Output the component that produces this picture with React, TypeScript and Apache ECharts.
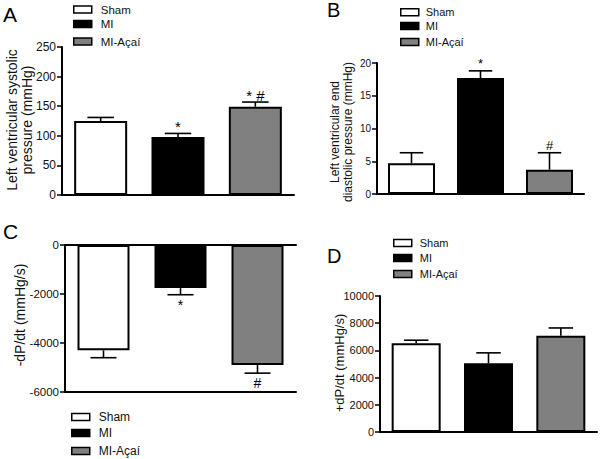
import React, { useEffect, useRef } from 'react';
import * as echarts from 'echarts';

// ---------- data ----------
const groups = ['Sham', 'MI', 'MI-Açaí'];
const groupColors = ['#ffffff', '#000000', '#808080'];

const lvspMean = [125, 98, 149];
const lvspSem = [6, 6, 8];
const lvspMarks = ['', '*', '* #'];
const lvspAxis = [0, 250, 50];

const lvedpMean = [4.7, 17.7, 3.7];
const lvedpSem = [1.6, 1.1, 2.6];
const lvedpMarks = ['', '*', '#'];
const lvedpAxis = [0, 20, 5];

const negDpMean = [-4300, -1760, -4900];
const negDpSem = [300, 270, 330];
const negDpMarks = ['', '*', '#'];
const negDpAxis = [-6000, 0, 2000];

const posDpMean = [6530, 5050, 7070];
const posDpSem = [220, 770, 580];
const posDpMarks = ['', '', ''];
const posDpAxis = [0, 10000, 2000];

const FONT = '"Liberation Sans", Arial, Helvetica, sans-serif';

type Panel = {
  mean: number[];
  sem: number[];
  marks: string[];
  axis: number[];
  grid: { left: number; top: number; width: number; height: number };
  barWidth: number;
  tickFont: number;
  markFont: number;
  dir: number;
  bottomLine?: boolean;
};

const panels: Panel[] = [
  { mean: lvspMean, sem: lvspSem, marks: lvspMarks, axis: lvspAxis, grid: { left: 62, top: 47, width: 232, height: 148 }, barWidth: 53, tickFont: 12, markFont: 15, dir: 1 },
  { mean: lvedpMean, sem: lvedpSem, marks: lvedpMarks, axis: lvedpAxis, grid: { left: 377, top: 63, width: 207, height: 131 }, barWidth: 47, tickFont: 10, markFont: 13, dir: 1 },
  { mean: negDpMean, sem: negDpSem, marks: negDpMarks, axis: negDpAxis, grid: { left: 65, top: 245, width: 231, height: 147 }, barWidth: 52, tickFont: 11.5, markFont: 14, dir: -1, bottomLine: true },
  { mean: posDpMean, sem: posDpSem, marks: posDpMarks, axis: posDpAxis, grid: { left: 380, top: 296, width: 217, height: 136 }, barWidth: 49, tickFont: 11, markFont: 14, dir: 1 },
];

const legendLayouts = [
  { left: 73, centers: [9.5, 24, 41.5], font: 11.5, pad: 4 },
  { left: 400, centers: [12.3, 26, 42], font: 11, pad: 2 },
  { left: 71, centers: [417, 433, 451], font: 12, pad: 4 },
  { left: 393, centers: [243, 258, 274], font: 11, pad: 3 },
];

const axisTitles = [
  { text: 'Left ventricular systolic\npressure (mmHg)', x: 19.5, y: 120, font: 14, lh: 15 },
  { text: 'Left ventricular end\ndiastolic pressure (mmHg)', x: 341.5, y: 132, font: 12, lh: 13 },
  { text: '-dP/dt (mmHg/s)', x: 20, y: 315, font: 14, lh: 15 },
  { text: '+dP/dt (mmHg/s)', x: 339, y: 363, font: 13, lh: 14 },
];

const panelLetters = [
  { text: 'A', x: 3, y: 14.5, font: 21 },
  { text: 'B', x: 327, y: 10, font: 20 },
  { text: 'C', x: 3, y: 231, font: 21 },
  { text: 'D', x: 327, y: 256, font: 20 },
];

function buildOption() {
  const grid: any[] = [];
  const xAxis: any[] = [];
  const yAxis: any[] = [];
  const series: any[] = [];
  const legend: any[] = [];
  const graphic: any[] = [];

  panels.forEach((p, pi) => {
    grid.push({ ...p.grid, containLabel: false });
    const xIdx = xAxis.length;
    xAxis.push({
      type: 'category',
      gridIndex: pi,
      data: groups,
      boundaryGap: true,
      axisLine: { show: true, onZero: true, lineStyle: { color: '#000', width: 2 } },
      axisTick: { show: false },
      axisLabel: { show: false },
      splitLine: { show: false },
    });
    if (p.bottomLine) {
      xAxis.push({
        type: 'category',
        gridIndex: pi,
        data: groups,
        position: 'bottom',
        axisLine: { show: true, onZero: false, lineStyle: { color: '#000', width: 2 } },
        axisTick: { show: false },
        axisLabel: { show: false },
        splitLine: { show: false },
      });
    }
    yAxis.push({
      type: 'value',
      gridIndex: pi,
      min: p.axis[0],
      max: p.axis[1],
      interval: p.axis[2],
      axisLine: { show: true, onZero: false, lineStyle: { color: '#000', width: 2 } },
      axisTick: { show: true, length: 5, lineStyle: { color: '#000', width: 1.5 } },
      axisLabel: { show: true, color: '#111', fontSize: p.tickFont, fontFamily: FONT, margin: 6, formatter: (v: number) => String(v) },
      splitLine: { show: false },
    });

    groups.forEach((g, gi) => {
      series.push({
        type: 'bar',
        name: g,
        xAxisIndex: xIdx,
        yAxisIndex: pi,
        barWidth: p.barWidth,
        barGap: '-100%',
        data: groups.map((_, k) => (k === gi ? p.mean[k] : null)),
        itemStyle: { color: groupColors[gi], borderColor: '#000', borderWidth: 2 },
        z: 2,
      });
    });

    series.push({
      type: 'custom',
      xAxisIndex: xIdx,
      yAxisIndex: pi,
      z: 5,
      data: p.mean.map((m, k) => [k, m]),
      renderItem: (params: any, api: any) => {
        const k = params.dataIndex;
        const m = p.mean[k];
        const base = api.coord([k, m]);
        const end = api.coord([k, m + p.dir * p.sem[k]]);
        const half = p.barWidth / 4;
        const children: any[] = [
          { type: 'line', shape: { x1: base[0], y1: base[1], x2: end[0], y2: end[1] }, style: { stroke: '#000', lineWidth: 1.6 } },
          { type: 'line', shape: { x1: end[0] - half, y1: end[1], x2: end[0] + half, y2: end[1] }, style: { stroke: '#000', lineWidth: 1.6 } },
        ];
        if (p.marks[k]) {
          children.push({
            type: 'text',
            style: {
              text: p.marks[k],
              x: end[0],
              y: end[1] + (p.dir > 0 ? -7 : 10),
              align: 'center',
              verticalAlign: 'middle',
              fontSize: p.markFont,
              fontFamily: FONT,
              fill: '#000',
            },
          });
        }
        return { type: 'group', children };
      },
    });

    const ll = legendLayouts[pi];
    groups.forEach((g, gi) => {
      legend.push({
        data: [g],
        left: ll.left,
        top: ll.centers[gi] - 7,
        padding: 0,
        icon: 'rect',
        itemWidth: 18,
        itemHeight: 7,
        selectedMode: false,
        itemStyle: { borderColor: '#000', borderWidth: 1.5 },
        textStyle: { fontSize: ll.font, fontFamily: FONT, color: '#111', lineHeight: 14, padding: [0, 0, 0, ll.pad] },
      });
    });

    const t = axisTitles[pi];
    graphic.push({
      type: 'text',
      x: t.x,
      y: t.y,
      rotation: Math.PI / 2,
      style: { text: t.text, align: 'center', verticalAlign: 'middle', fontSize: t.font, lineHeight: t.lh, fontFamily: FONT, fill: '#111' },
    });
    const L = panelLetters[pi];
    graphic.push({
      type: 'text',
      x: L.x,
      y: L.y,
      style: { text: L.text, align: 'left', verticalAlign: 'middle', fontSize: L.font, fontFamily: FONT, fill: '#000' },
    });
  });

  return {
    animation: false,
    backgroundColor: '#fff',
    grid,
    xAxis,
    yAxis,
    series,
    legend,
    graphic,
  };
}

export default function App() {
  const ref = useRef<HTMLDivElement>(null);
  useEffect(() => {
    if (!ref.current) return;
    const chart = echarts.init(ref.current, undefined, { renderer: 'svg' });
    chart.setOption(buildOption() as any);
    return () => chart.dispose();
  }, []);
  return <div ref={ref} style={{ width: 600, height: 459, position: 'absolute', left: 0, top: 0 }} />;
}
